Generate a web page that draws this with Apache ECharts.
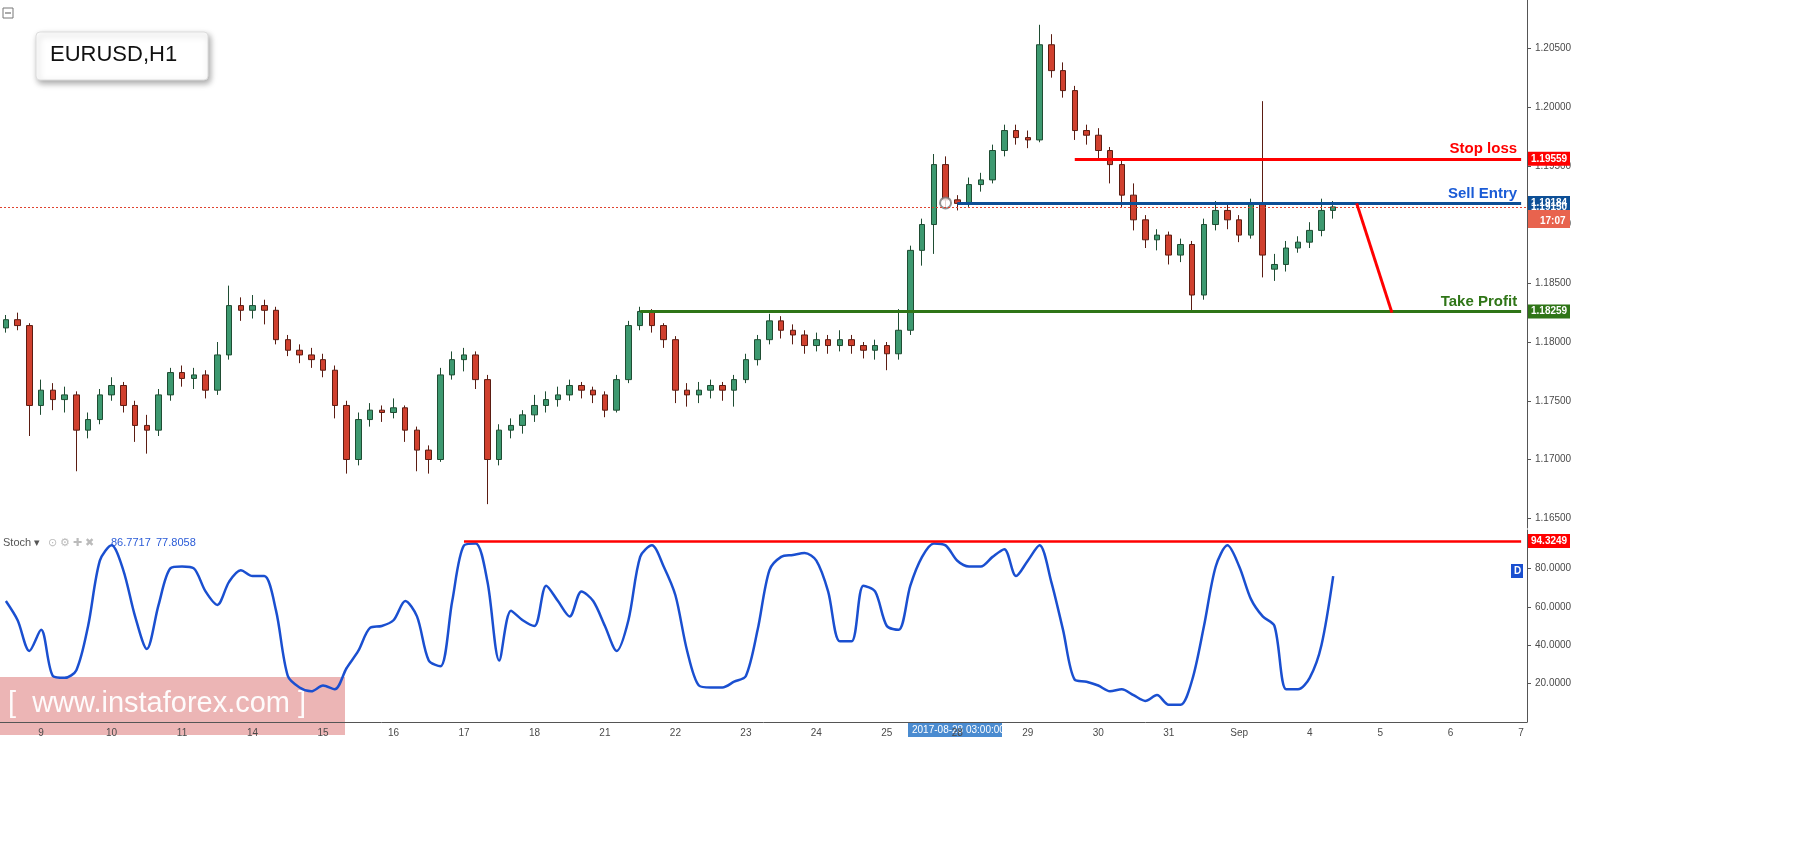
<!DOCTYPE html>
<html><head><meta charset="utf-8">
<script src="https://cdn.jsdelivr.net/npm/echarts@6/dist/echarts.min.js"></script>
<style>html,body{margin:0;padding:0;background:#fff}#c{width:1805px;height:848px}</style>
</head><body><div id="c"></div>
<script>
// day labels (first entry is a partial day with 3 bars, 6 bars per day after)
const dayLabels = ['8','9','10','11','14','15','16','17','18','21','22','23','24','25','28','29','30','31','Sep','4','5','6','7'];
const barsFirstDay = 3, barsPerDay = 6, barsLastDay = 1;
// [open, close, low, high]
const ohlc = [
[1.1812,1.1819,1.1808,1.1823],[1.1819,1.1814,1.1810,1.1825],[1.1814,1.1746,1.1720,1.1816],[1.1746,1.1759,1.1738,1.1768],
[1.1759,1.1751,1.1742,1.1765],[1.1751,1.1755,1.1740,1.1762],[1.1755,1.1725,1.1690,1.1758],[1.1725,1.1734,1.1718,1.1740],
[1.1734,1.1755,1.1730,1.1760],[1.1755,1.1763,1.1750,1.1770],[1.1763,1.1746,1.1740,1.1766],[1.1746,1.1729,1.1715,1.1750],
[1.1729,1.1725,1.1705,1.1738],[1.1725,1.1755,1.1720,1.1760],[1.1755,1.1774,1.1750,1.1778],[1.1774,1.1769,1.1762,1.1780],
[1.1769,1.1772,1.1760,1.1778],[1.1772,1.1759,1.1752,1.1776],[1.1759,1.1789,1.1755,1.1800],[1.1789,1.1831,1.1785,1.1848],
[1.1831,1.1827,1.1818,1.1838],[1.1827,1.1831,1.1820,1.1840],[1.1831,1.1827,1.1815,1.1836],[1.1827,1.1802,1.1798,1.1830],
[1.1802,1.1793,1.1788,1.1806],[1.1793,1.1789,1.1782,1.1798],[1.1789,1.1785,1.1778,1.1795],[1.1785,1.1776,1.1770,1.1790],
[1.1776,1.1746,1.1735,1.1780],[1.1746,1.1700,1.1688,1.1750],[1.1700,1.1734,1.1695,1.1740],[1.1734,1.1742,1.1728,1.1748],
[1.1742,1.1740,1.1732,1.1746],[1.1740,1.1744,1.1735,1.1752],[1.1744,1.1725,1.1715,1.1746],[1.1725,1.1708,1.1690,1.1728],
[1.1708,1.1700,1.1688,1.1712],[1.1700,1.1772,1.1698,1.1778],[1.1772,1.1785,1.1768,1.1792],[1.1785,1.1789,1.1775,1.1795],
[1.1789,1.1768,1.1760,1.1792],[1.1768,1.1700,1.1662,1.1772],[1.1700,1.1725,1.1695,1.1730],[1.1725,1.1729,1.1718,1.1735],
[1.1729,1.1738,1.1722,1.1742],[1.1738,1.1746,1.1732,1.1755],[1.1746,1.1751,1.1740,1.1758],[1.1751,1.1755,1.1745,1.1762],
[1.1755,1.1763,1.1750,1.1768],[1.1763,1.1759,1.1752,1.1766],[1.1759,1.1755,1.1748,1.1762],[1.1755,1.1742,1.1736,1.1758],
[1.1742,1.1768,1.1740,1.1772],[1.1768,1.1814,1.1765,1.1818],[1.1814,1.1826,1.1810,1.1830],[1.1826,1.1814,1.1808,1.1828],
[1.1814,1.1802,1.1795,1.1816],[1.1802,1.1759,1.1748,1.1805],[1.1759,1.1755,1.1745,1.1765],[1.1755,1.1759,1.1748,1.1766],
[1.1759,1.1763,1.1752,1.1768],[1.1763,1.1759,1.1750,1.1766],[1.1759,1.1768,1.1745,1.1772],[1.1768,1.1785,1.1765,1.1790],
[1.1785,1.1802,1.1780,1.1806],[1.1802,1.1818,1.1798,1.1824],[1.1818,1.1810,1.1803,1.1822],[1.1810,1.1806,1.1798,1.1815],
[1.1806,1.1797,1.1790,1.1810],[1.1797,1.1802,1.1792,1.1808],[1.1802,1.1797,1.1790,1.1806],[1.1797,1.1802,1.1792,1.1810],
[1.1802,1.1797,1.1790,1.1806],[1.1797,1.1793,1.1786,1.1800],[1.1793,1.1797,1.1785,1.1802],[1.1797,1.1790,1.1776,1.1800],
[1.1790,1.1810,1.1785,1.1828],[1.1810,1.1878,1.1806,1.1882],[1.1878,1.1900,1.1865,1.1905],[1.1900,1.1951,1.1875,1.1960],
[1.1951,1.1921,1.1915,1.1958],[1.1921,1.1918,1.1912,1.1925],[1.1918,1.1934,1.1915,1.1940],[1.1934,1.1938,1.1928,1.1944],
[1.1938,1.1963,1.1935,1.1968],[1.1963,1.1980,1.1958,1.1985],[1.1980,1.1974,1.1968,1.1985],[1.1974,1.1972,1.1965,1.1980],
[1.1972,1.2053,1.1970,1.2070],[1.2053,1.2031,1.2025,1.2062],[1.2031,1.2014,1.2008,1.2038],[1.2014,1.1980,1.1972,1.2018],
[1.1980,1.1976,1.1968,1.1985],[1.1976,1.1963,1.1955,1.1982],[1.1963,1.1951,1.1935,1.1966],[1.1951,1.1925,1.1915,1.1955],
[1.1925,1.1904,1.1895,1.1935],[1.1904,1.1887,1.1880,1.1908],[1.1887,1.1891,1.1878,1.1896],[1.1891,1.1874,1.1866,1.1894],
[1.1874,1.1883,1.1868,1.1888],[1.1883,1.1840,1.1826,1.1886],[1.1840,1.1900,1.1836,1.1905],[1.1900,1.1912,1.1895,1.1920],
[1.1912,1.1904,1.1896,1.1918],[1.1904,1.1891,1.1885,1.1908],[1.1891,1.1917,1.1888,1.1922],[1.1917,1.1874,1.1855,1.2005],
[1.1862,1.1866,1.1852,1.1875],[1.1866,1.1880,1.1860,1.1886],[1.1880,1.1885,1.1876,1.1890],[1.1885,1.1895,1.1880,1.1902],
[1.1895,1.1912,1.1890,1.1922],[1.1912,1.1915,1.1905,1.1920]
];
const stoch = [63,53,37,48,24,23,27,50,84,92,79,55,38,61,80,81,80,68,61,73,79,76,76,58,24,18,16,19,17,28,37,49,50,53,63,55,32,29,63,92,
93,73,32,58,53,50,71,63,55,68,63,50,37,53,86,92,81,66,37,19,18,18,21,24,48,79,86,87,88,84,68,42,42,71,68,50,48,71,86,93,
92,84,81,81,86,90,76,84,92,73,48,22,21,19,16,17,14,11,14,9,9,22,50,81,92,81,64,55,50,17,17,23,40,76];
const priceTicks = [1.165,1.170,1.175,1.180,1.185,1.190,1.195,1.200,1.205];
const stochTicks = [20,40,60,80];
const stopLoss = 1.19559, sellEntry = 1.19184, takeProfit = 1.18259, lastPrice = 1.19150, stochLevel = 94.3249;
const stopStart = 91, entryStart = 81, tpStart = 54, stochLineStart = 39;
const arrowFrom = [115, 1.1918], arrowTo = [118, 1.1825];

const cats = [], catLabel = [];
dayLabels.forEach((d, k) => {
  const n = k === 0 ? barsFirstDay : (k === dayLabels.length - 1 ? barsLastDay : barsPerDay);
  for (let j = 0; j < n; j++) { cats.push('c' + cats.length); catLabel.push(j === 0 && k > 0 ? d : ''); }
});
const lastCat = cats.length - 1;

const up = '#3d9970', down = '#d0402e';
const axisLbl = {color:'#4a4a4a', fontSize:10, fontFamily:'Arial, Liberation Sans'};

const chart = echarts.init(document.getElementById('c'));
const segLine = (v, start, color, text, textColor) => ({
  symbol:['none','none'], silent:true,
  lineStyle:{color, width:3, type:'solid'},
  data:[
    [{coord:[start, v], label:{show:true, position:'insideEndTop', formatter:text, color:textColor, fontSize:15, fontWeight:'bold', fontFamily:'Arial, Liberation Sans', distance:[4,2]}},{coord:[lastCat, v]}]
  ]
});

const staticGraphic = [
    {type:'rect', shape:{x:3,y:8,width:10,height:10}, style:{fill:'#fff', stroke:'#777'}},
    {type:'rect', shape:{x:5,y:12.5,width:6,height:1}, style:{fill:'#555'}},
    {type:'rect', shape:{x:36,y:32,width:172,height:48,r:4}, style:{fill:'#fff', stroke:'#ddd', shadowBlur:6, shadowOffsetX:2, shadowOffsetY:3, shadowColor:'rgba(0,0,0,0.35)'}},
    {type:'text', x:50, y:44, style:{text:'EURUSD,H1', font:'22px Arial, "Liberation Sans"', fill:'#111'}},
    {type:'text', x:3, y:537, style:{text:'Stoch ▾', font:'11px Arial', fill:'#555'}},
    {type:'text', x:48, y:537, style:{text:'⊙ ⚙ ✚ ✖', font:'11px Arial', fill:'#bbb'}},
    {type:'text', x:111, y:537, style:{text:'86.7717', font:'11px Arial', fill:'#2a5bd7'}},
    {type:'text', x:156, y:537, style:{text:'77.8058', font:'11px Arial', fill:'#2a5bd7'}},
    {type:'rect', shape:{x:1511,y:564,width:12,height:14}, style:{fill:'#1a4fd0'}},
    {type:'text', x:1514, y:566, style:{text:'D', font:'bold 10px Arial', fill:'#fff'}},
    {type:'rect', shape:{x:0,y:677,width:345,height:58}, style:{fill:'rgba(220,120,120,0.55)'}},
    {type:'text', x:8, y:689, style:{text:'[  www.instaforex.com ]', font:'29px Arial, "Liberation Sans"', fill:'rgba(255,255,255,0.95)'}},
    {type:'rect', shape:{x:908,y:722,width:94,height:15}, style:{fill:'#4a8bd0'}},
    {type:'text', x:912, y:725, style:{text:'2017-08-28 03:00:00', font:'10px Arial', fill:'#fff'}}
];

chart.setOption({
  animation:false,
  grid:[{left:0, right:278, top:0, height:528}, {left:0, right:278, top:530, height:192}],
  xAxis:[
    {type:'category', gridIndex:0, data:cats, axisLine:{show:false}, axisTick:{show:false}, axisLabel:{show:false}, splitLine:{show:false}},
    {type:'category', gridIndex:1, data:cats, axisLine:{show:true, lineStyle:{color:'#555'}}, axisTick:{show:false},
     axisLabel:{...axisLbl, interval:0, formatter:(v,i)=>catLabel[i], margin:6}, splitLine:{show:false}}
  ],
  yAxis:[
    {type:'value', gridIndex:0, position:'right', min:1.16417, max:1.20911,
     axisLine:{show:true, lineStyle:{color:'#555'}}, axisTick:{show:true, customValues:priceTicks, length:4, lineStyle:{color:'#555'}},
     axisLabel:{...axisLbl, customValues:priceTicks, formatter:v=>v.toFixed(5), margin:8}, splitLine:{show:false}},
    {type:'value', gridIndex:1, position:'right', min:0, max:100,
     axisLine:{show:true, lineStyle:{color:'#555'}}, axisTick:{show:true, customValues:stochTicks, length:4, lineStyle:{color:'#555'}},
     axisLabel:{...axisLbl, customValues:stochTicks, formatter:v=>v.toFixed(4), margin:8}, splitLine:{show:false}}
  ],
  series:[
    {type:'candlestick', xAxisIndex:0, yAxisIndex:0, data:ohlc, barWidth:6,
     itemStyle:{color:up, color0:down, borderColor:'#1f4d33', borderColor0:'#5b1c12', borderWidth:1}},
    {type:'line', xAxisIndex:0, yAxisIndex:0, data:[], markLine:{symbol:['none','none'], silent:true, label:{show:false},
      lineStyle:{color:'#e0432f', type:[2,2], width:1},
      data:[[{coord:[0, lastPrice], x:0},{coord:[lastCat, lastPrice], x:1527}]]}},
    {type:'line', xAxisIndex:0, yAxisIndex:0, data:[], markLine:segLine(takeProfit, tpStart, '#2f7517', 'Take Profit', '#2f7517')},
    {type:'line', xAxisIndex:0, yAxisIndex:0, data:[], markLine:segLine(stopLoss, stopStart, '#ff0000', 'Stop loss', '#ff0000')},
    {type:'line', xAxisIndex:0, yAxisIndex:0, data:[], markLine:segLine(sellEntry, entryStart, '#0d4f96', 'Sell Entry', '#1a5bd6')},
    {type:'line', xAxisIndex:0, yAxisIndex:0, data:[], markLine:{symbol:['none','arrow'], symbolSize:[0,14], silent:true,
      lineStyle:{color:'#ff0000', width:3, type:'solid'}, label:{show:false},
      data:[[{coord:arrowFrom},{coord:arrowTo}]]}},
    {type:'scatter', xAxisIndex:0, yAxisIndex:0, data:[[entryStart-1, sellEntry]], symbol:'circle', symbolSize:11,
     itemStyle:{color:'#fff', borderColor:'#777', borderWidth:2}, silent:true},
    {type:'line', xAxisIndex:1, yAxisIndex:1, data:stoch, smooth:0.3, symbol:'none', lineStyle:{color:'#1a4fd0', width:2.5},
     markLine:{symbol:['none','none'], silent:true, lineStyle:{color:'#ff0000', width:2.5, type:'solid'}, label:{show:false}, data:[
       [{coord:[stochLineStart, stochLevel]},{coord:[lastCat, stochLevel]}]
     ]}}
  ],
  graphic:staticGraphic
});

const tags = [];
const addTag = (yAxisIndex, v, txt, bg, extra) => {
  const y = chart.convertToPixel({yAxisIndex}, v);
  tags.push({type:'rect', shape:{x:1528, y:y-7, width:42, height:14}, style:{fill:bg}, z:50});
  tags.push({type:'text', x:1531, y:y-5, style:{text:txt, font:'bold 10px Arial', fill:'#fff'}, z:51});
  if (extra) {
    tags.push({type:'rect', shape:{x:1528, y:y+7, width:42, height:14}, style:{fill:bg}, z:50});
    tags.push({type:'text', x:1540, y:y+9, style:{text:extra, font:'bold 10px Arial', fill:'#fff'}, z:51});
  }
};
addTag(0, lastPrice, lastPrice.toFixed(5), '#e8634e', '17:07');
addTag(0, stopLoss, stopLoss.toFixed(5), '#ff0000');
addTag(0, sellEntry, sellEntry.toFixed(5), '#0d4f96');
addTag(0, takeProfit, takeProfit.toFixed(5), '#2f7517');
addTag(1, stochLevel, String(stochLevel), '#ff0000');
chart.setOption({graphic:staticGraphic.concat(tags)}, {replaceMerge:['graphic']});
</script></body></html>
